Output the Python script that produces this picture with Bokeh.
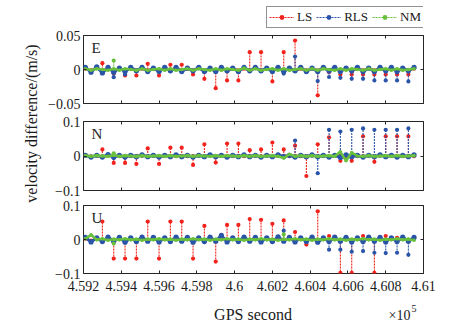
import numpy as np
from bokeh.plotting import figure
from bokeh.models import Range1d, FixedTicker, LinearAxis, Label, Legend, LegendItem
from bokeh.layouts import row, column
from bokeh.embed import file_html
from bokeh.resources import INLINE

# ---------------- data (values in units of 1e-3 m/s) ----------------
base_t = list(range(459210, 460951, 30))     # 59 sample epochs of the band
spike_t = list(range(459300, 460921, 60))    # 28 outlier epochs

x_ticks = [459200, 459400, 459600, 459800, 460000, 460200, 460400, 460600, 460800, 461000]
x_tick_labels = ["4.592", "4.594", "4.596", "4.598", "4.6", "4.602", "4.604", "4.606", "4.608", "4.61"]

series_names = ["LS", "RLS", "NM"]

E_LS_base = [1, -1, 2, -1, 1, -2, 1, -1, 2, -1,
             1, -1, 1, -2, 1, -1, 2, -1, 1, -1,
             2, -1, 1, -1, 1, -2, 1, -1, 1, -1,
             2, -1, 1, -1, 2, -1, 1, -2, 1, -1,
             1, -1, 2, -1, 1, -1, 1, -2, 1, -1,
             2, -1, 1, -1, 1, -2, 1, -1, 1]
E_RLS_base = [3, -4, 4, -5, 3, -4, 2, -3, 3, -2,
              3, -3, 2, -3, 3, -2, 3, -3, 2, -2,
              3, -3, 2, -3, 3, -2, 2, -3, 3, -2,
              3, -2, 2, -3, 3, -3, 2, -2, 3, -3,
              2, -3, 3, -2, 3, -3, 2, -2, 3, -3,
              2, -3, 3, -2, 3, -3, 2, -2, 3]
E_NM_base = [1, -1, 1, 0, -1, 1, -1, 1, 0, -1,
             1, -1, 0, 1, -1, 1, -1, 0, 1, -1,
             1, 0, -1, 1, -1, 1, 0, -1, 2, -1,
             1, -1, 0, 1, -1, 1, -1, 0, 1, -1,
             1, -1, 1, 0, -1, 1, -1, 1, 0, -1,
             1, -1, 0, 1, -1, 1, -1, 0, 1]
E_LS_spk = [9.3, -6, -8.8, -8.8, 8.3, -8.8, 7, 7, -7.3, -13.7,
            -27.5, -16, -16, 25.5, 25.5, -17.6, 25.5, 42.6, None, -38,
            -4, -7.3, -7.3, -7.3, -7.3, -7.3, -7.3, -7.3]
E_RLS_spk = [None, -11.3, -7.3, None, None, None, None, None, None, None,
             None, None, None, None, None, None, -6, 19, None, -17,
             -11, -12.2, -13.7, -13.7, -16, -16, -16, -17.6]
E_NM_spk = [None, 13.2, None, None, None, None, None, None, None, None,
            None, None, None, None, None, None, None, None, None, None,
            None, None, None, None, None, None, None, None]

N_LS_base = [1, -1, 1, -1, 0, 1, -1, 1, -1, 0,
             1, -1, 1, -1, 0, 1, -1, 1, -1, 0,
             1, -1, 1, -1, 0, 1, -1, 1, -1, 0,
             1, -1, 1, -1, 0, 1, -1, 1, -1, 0,
             1, -1, 1, -1, 0, 1, -1, 1, -1, 0,
             1, -1, 1, -1, 0, 1, -1, 1, -1]
N_RLS_base = [2, -3, 2, -3, 4, -3, 2, -3, 2, -2,
              3, -2, 2, -3, 2, -2, 3, -2, 2, -3,
              2, -2, 3, -2, 2, -3, 2, -2, 3, -2,
              2, -3, 2, -2, 3, -2, 2, -3, 2, -2,
              3, -2, 2, -3, 2, -4, 3, -2, 2, -3,
              2, -2, 3, -2, 2, -3, 2, -2, 3]
N_NM_base = [1, -1, 1, 0, -1, 2, -1, 1, 0, -1,
             1, -1, 0, 1, -1, 1, -1, 0, 1, -1,
             1, 0, -1, 1, -1, 1, 0, -1, 1, -1,
             1, -1, 0, 1, -1, -6, 5, -1, 1, -1,
             1, -1, 0, 1, -1, 12, -14, 10, 0, -1,
             1, -1, 0, 1, -1, 1, -1, 0, 1]
N_LS_spk = [19, -20, -20, -23, 22, -23, 24, 24, -26, 34,
            -19, 36, 36, 17, 19, 39, 19, 30, -58, 34,
            54, -14, -14, 57, -17, 57, 57, 57]
N_RLS_spk = [None, -6, -4, None, None, None, None, None, None, None,
             None, None, None, None, None, None, None, 45, None, -50,
             76, 71, 76, 80, 76, 76, 76, 80]
N_NM_spk = [None, 8, None, None, None, None, None, None, None, None,
            None, None, None, None, None, None, None, None, None, None,
            None, None, None, None, None, None, None, None]

U_LS_base = [2, -3, 2, -2, 3, -2, 2, -3, 2, -2,
             3, -2, 2, -3, 2, -2, 3, -2, 2, -3,
             2, -2, 3, -2, 2, -3, 2, -2, 3, -2,
             2, -3, 2, -2, 3, -2, 2, -3, 2, -2,
             3, -2, 2, -3, 2, -2, 3, -2, 2, -3,
             2, -2, 3, -2, 2, -3, 2, -2, 3]
U_RLS_base = [6, -7, 5, -6, 7, -5, 6, -8, 5, -6,
              7, -5, 6, -7, 5, -6, 7, -5, 6, -8,
              5, -6, 7, -5, 12, -7, 5, -6, 7, -5,
              6, -7, 5, -6, 8, -5, 6, -7, 5, -6,
              7, -8, 5, -6, 7, -5, 6, -7, 5, -6,
              7, -5, 6, -7, 5, -6, 7, -5, 6]
U_NM_base = [2, 14, -1, 2, -2, 1, -1, 2, -1, 1,
             -2, 1, -1, 2, -1, 1, -2, 1, -1, 2,
             -1, 1, -2, 1, -1, 2, -1, 1, -2, 1,
             -1, 2, -1, 1, -2, 1, -1, 2, -1, 1,
             -2, 1, -1, 2, -1, 1, -2, 1, -1, 2,
             -1, 1, -2, 1, -1, 2, -1, 1, -2]
U_LS_spk = [53, -56, -56, -56, 53, -56, 53, 53, -56, 40,
            -65, 43, 43, 60, 58, 46, 56, 22, -15, 83,
            10, -98, -98, 10, -98, 10, 5, None]
U_RLS_spk = [None, None, None, None, None, None, None, None, None, None,
             None, None, None, None, None, None, 26, None, None, None,
             -30, -30, -36, -34, -39, -40, -39, -45]
U_NM_spk = [None, -12, None, None, None, None, None, None, None, None,
            None, None, None, None, None, None, 15, None, None, None,
            None, None, None, None, None, None, None, None]

# ---------------- styling ----------------
FONT = "Liberation Serif"
RED, BLUE, GREEN = "#f2231c", "#2a54a8", "#69c03d"
COLORS = [RED, BLUE, GREEN]
BASE_LW = [2.0, 3.0, 2.6]
BASE_MS = [4.0, 5.2, 3.6]
AX = "#262626"
TXT = "#1a1a1a"
SCALE = 1e-3

FRAME_W = 340
LEFT, RIGHT = 39, 20
FIG_W = LEFT + FRAME_W + RIGHT
LABEL_W = 44

x_range = Range1d(459200, 461000)


def style_axis(ax, ticks, labels, show):
    ax.ticker = FixedTicker(ticks=ticks)
    ax.axis_line_color = None
    ax.major_tick_in = 3
    ax.major_tick_out = 0
    ax.major_tick_line_color = AX
    ax.minor_tick_line_color = None
    if show:
        ax.major_label_overrides = {k: v for k, v in zip(ticks, labels)}
        ax.major_label_text_font = FONT
        ax.major_label_text_font_size = "14px"
        ax.major_label_text_color = TXT
    else:
        ax.major_label_text_font_size = "1px"
        ax.major_label_text_color = None
        ax.major_label_standoff = 0


def bare_fig(w, h):
    f = figure(width=w, height=h, x_range=Range1d(0, 1), y_range=Range1d(0, 1),
               output_backend="svg", toolbar_location=None, min_border=0,
               x_axis_type=None, y_axis_type=None)
    f.outline_line_color = None
    f.border_fill_color = "white"
    f.background_fill_color = "white"
    return f


def panel(letter, ylim, yticks, ylabels, bases, spikes, top, bottom, frame_h, show_x):
    p = figure(width=FIG_W, height=top + frame_h + bottom, x_range=x_range,
               y_range=Range1d(*ylim), output_backend="svg", toolbar_location=None,
               min_border_left=LEFT, min_border_right=RIGHT,
               min_border_top=top, min_border_bottom=bottom)
    p.xgrid.visible = False
    p.ygrid.visible = False
    p.outline_line_color = AX
    p.outline_line_width = 1
    p.background_fill_color = "white"
    p.border_fill_color = "white"

    style_axis(p.xaxis[0], x_ticks, x_tick_labels, show_x)
    if show_x:
        p.xaxis[0].major_label_standoff = 7
    style_axis(p.yaxis[0], yticks, ylabels, True)
    p.yaxis[0].major_label_standoff = 3
    top_ax = LinearAxis()
    style_axis(top_ax, x_ticks, x_tick_labels, False)
    p.add_layout(top_ax, "above")
    right_ax = LinearAxis()
    style_axis(right_ax, yticks, ylabels, False)
    p.add_layout(right_ax, "right")

    for c, b, s, lw, ms in zip(COLORS, bases, spikes, BASE_LW, BASE_MS):
        bv = [v * SCALE for v in b]
        p.line(base_t, bv, line_color=c, line_width=lw)
        p.scatter(base_t, bv, marker="circle", size=ms, fill_color=c, line_color=c, line_width=0)
        st = [t for t, v in zip(spike_t, s) if v is not None]
        sv = [v * SCALE for v in s if v is not None]
        if st:
            p.segment(x0=st, y0=[0] * len(st), x1=st, y1=sv, line_color=c,
                      line_width=1.1, line_dash="2 1")
            p.scatter(st, sv, marker="circle", size=4.2, fill_color=c, line_color=c, line_width=0)

    p.add_layout(Label(x=8, y=frame_h - 4, x_units="screen", y_units="screen", text=letter,
                       text_baseline="top", text_align="left", text_font=FONT,
                       text_font_size="15px", text_color=AX))
    return p


# legend strip above the panels (its frame lines up with the panels' frames)
leg_fig = bare_fig(FIG_W, 30)
items = []
for name, c in zip(series_names, COLORS):
    # renderers kept outside the visible range: only their legend glyphs show
    lr = leg_fig.line([5, 6], [5, 5], line_color=c, line_width=1, line_dash="2 1")
    sr = leg_fig.scatter([5], [5], marker="circle", size=4.5, fill_color=c, line_color=c, line_width=0)
    items.append(LegendItem(label=name, renderers=[lr, sr]))
legend = Legend(items=items, location=(183, 2), orientation="horizontal",
                glyph_width=25, glyph_height=12, label_height=12, label_width=10,
                label_standoff=3, spacing=4, padding=2, margin=0, label_text_font=FONT,
                label_text_font_size="13px", label_text_color=TXT,
                border_line_color=AX, border_line_width=1, background_fill_alpha=1)
leg_fig.add_layout(legend)

p1 = panel("E", (-0.05, 0.05), [-0.05, 0, 0.05], ["\u22120.05", "0", "0.05"],
           [E_LS_base, E_RLS_base, E_NM_base], [E_LS_spk, E_RLS_spk, E_NM_spk],
           5, 9, 68, False)
p2 = panel("N", (-0.1, 0.1), [-0.1, 0, 0.1], ["\u22120.1", "0", "0.1"],
           [N_LS_base, N_RLS_base, N_NM_base], [N_LS_spk, N_RLS_spk, N_NM_spk],
           9, 7, 69, False)
p3 = panel("U", (-0.1, 0.1), [-0.1, 0, 0.1], ["\u22120.1", "0", "0.1"],
           [U_LS_base, U_RLS_base, U_NM_base], [U_LS_spk, U_RLS_spk, U_NM_spk],
           8, 27, 68, True)

# x label strip below the panels (frame aligned with the panels' frames)
XL_H = 24
xl_fig = bare_fig(FIG_W, XL_H)
xl_fig.add_layout(Label(x=FRAME_W / 2 - 0.5, y=10, x_units="screen", y_units="screen",
                        text="GPS second", text_align="center", text_baseline="alphabetic",
                        text_font=FONT, text_font_size="16px", text_color=TXT))
xl_fig.add_layout(Label(x=305, y=9, x_units="screen", y_units="screen", text="\u00d710",
                        text_align="left", text_baseline="alphabetic", text_font=FONT,
                        text_font_size="14px", text_color=TXT))
xl_fig.add_layout(Label(x=328, y=16, x_units="screen", y_units="screen", text="5",
                        text_align="left", text_baseline="alphabetic", text_font=FONT,
                        text_font_size="10px", text_color=TXT))

TOTAL_H = leg_fig.height + p1.height + p2.height + p3.height + xl_fig.height
lf = bare_fig(LABEL_W, TOTAL_H)
lf.add_layout(Label(x=31, y=TOTAL_H - 155 + 32, x_units="screen", y_units="screen",
                    text="velocity difference/(m/s)", angle=np.pi / 2, text_align="center",
                    text_baseline="middle", text_font=FONT, text_font_size="16px",
                    text_color=TXT))

layout = row(lf, column(leg_fig, p1, p2, p3, xl_fig))
open("out.html", "w").write(file_html(layout, INLINE))
